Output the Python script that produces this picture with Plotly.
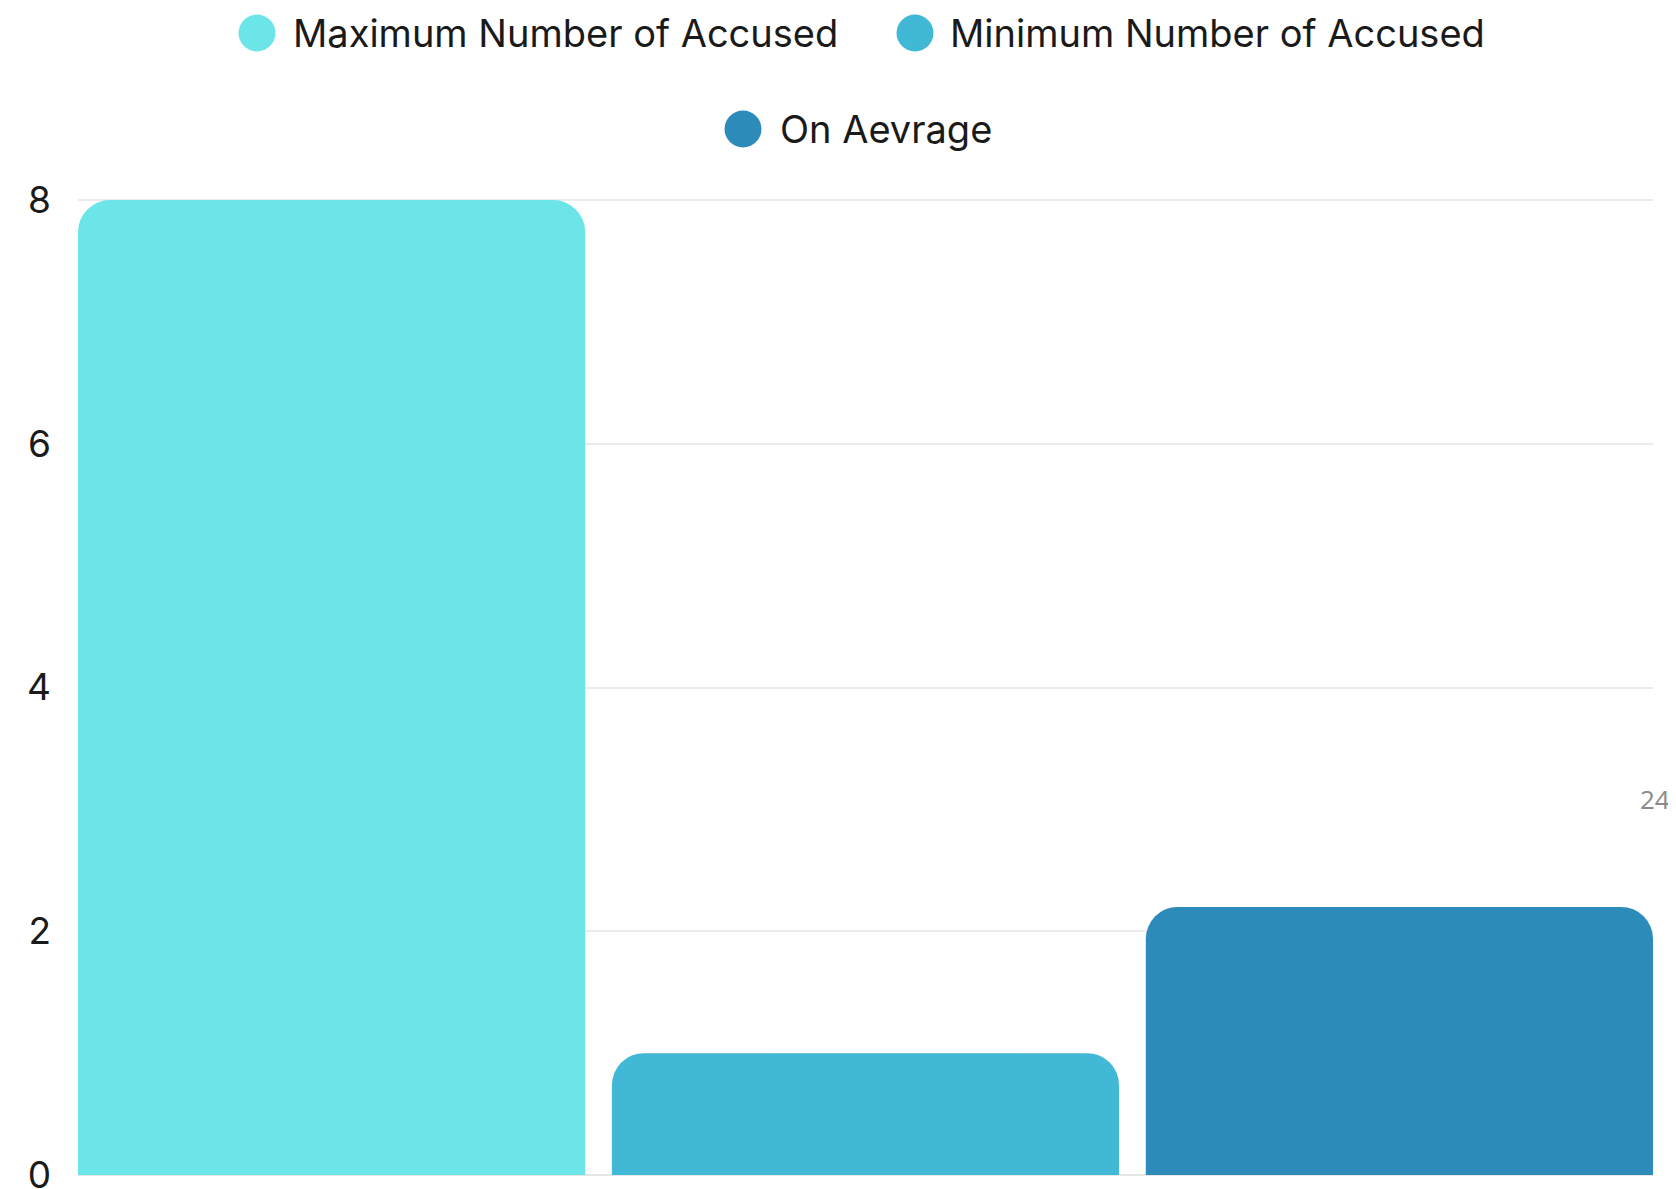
import plotly.graph_objects as go

# ---- data ----
categories = ["Maximum Number of Accused", "Minimum Number of Accused", "On Aevrage"]
values = [8, 1, 2.2]
colors = ["#6CE5E8", "#41B8D5", "#2D8BBA"]
y_ticks = [0, 2, 4, 6, 8]

Y_MAX = 8.025
OFF = 8  # browser body margin
W, H = 1676 - OFF, 1189 - OFF
Y0_PX, Y8_PX = 1175, 200
PH = round((Y0_PX - Y8_PX) * Y_MAX / 8)
B = 1189 - Y0_PX
T = H - B - PH
L, R = 78 - OFF, 23
PW = W - L - R

def px_x(p):
    return (p - OFF - L) / PW

def px_y(p):
    return (H - B - (p - OFF)) / PH

fig = go.Figure()
for cat, val, col in zip(categories, values, colors):
    fig.add_trace(go.Bar(x=[cat], y=[val], name=cat, marker=dict(color=col, line=dict(width=0)),
                         showlegend=False))

# legend drawn as circles + text (row layout of original)
legend_items = [
    (categories[0], colors[0], 257, 33, 293),
    (categories[1], colors[1], 915, 33, 950),
    (categories[2], colors[2], 743, 129, 780),
]
shapes = []
annotations = []
r = 18.5
for name, col, cx, cy, tx in legend_items:
    shapes.append(dict(type="circle", xref="paper", yref="paper",
                       x0=px_x(cx - r), x1=px_x(cx + r), y0=px_y(cy + r), y1=px_y(cy - r),
                       fillcolor=col, line=dict(width=0), layer="above"))
    annotations.append(dict(text=name, xref="paper", yref="paper", x=px_x(tx - 2), y=px_y(cy),
                            xanchor="left", yanchor="middle", showarrow=False,
                            font=dict(family="Inter", size=38, color="#1a1a1a")))

annotations.append(dict(text="24", xref="paper", yref="paper", x=px_x(1655), y=px_y(799),
                        xanchor="center", yanchor="middle", showarrow=False,
                        font=dict(family="Open Sans", size=26, color="#8a8a8a")))

fig.update_layout(
    width=W, height=H,
    margin=dict(l=L, r=R, t=T, b=B, pad=0, autoexpand=False),
    paper_bgcolor="white", plot_bgcolor="white",
    barmode="overlay", bargap=0.05, barcornerradius=32,
    shapes=shapes, annotations=annotations,
    font=dict(family="Inter", color="#1a1a1a"),
    xaxis=dict(type="category", categoryorder="array", categoryarray=categories,
               range=[-0.475, 2.475], showticklabels=False, showgrid=False,
               zeroline=False, showline=False, ticks="", automargin=False),
    yaxis=dict(range=[0, Y_MAX], tickvals=y_ticks, showgrid=True, gridcolor="#ebebeb", gridwidth=2,
               zeroline=True, zerolinecolor="#e6e6e6", zerolinewidth=2, showline=False,
               ticks="", ticklabelstandoff=26, ticklabeloverflow="allow", automargin=False,
               tickfont=dict(family="Inter", size=37, color="#1a1a1a")),
    showlegend=False,
)

fig.write_html("out.html")
